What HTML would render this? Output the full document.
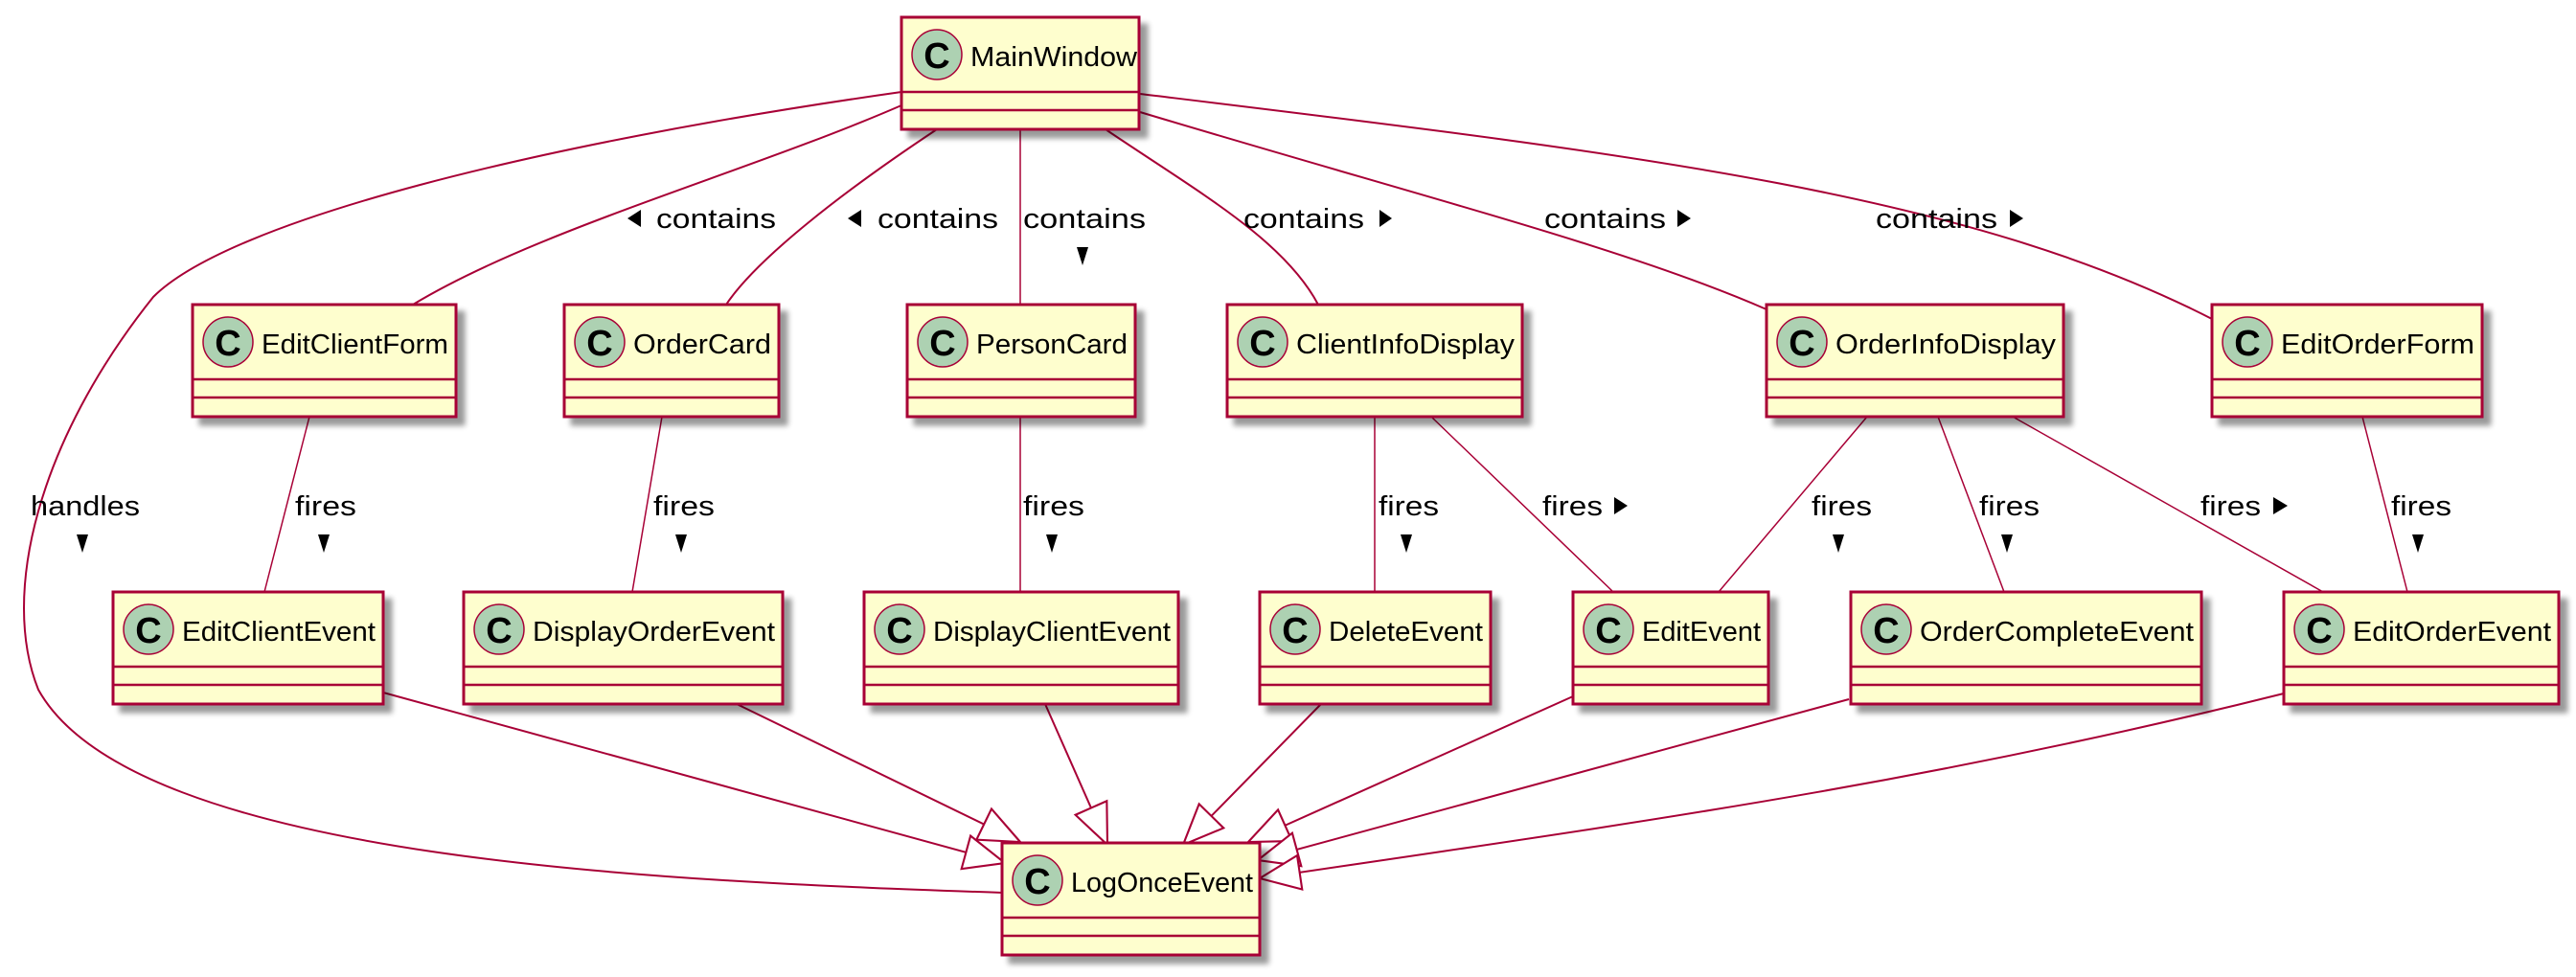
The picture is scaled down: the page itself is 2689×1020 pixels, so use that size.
<!DOCTYPE html>
<html><head><meta charset="utf-8"><style>
html,body{margin:0;padding:0;background:#fff;}
svg{display:block;}
text{font-family:"Liberation Sans",sans-serif;}
</style></head><body>
<svg width="2689" height="1020" viewBox="0 0 2689 1020" xmlns="http://www.w3.org/2000/svg">
<defs>
<filter id="sh" x="-10%" y="-10%" width="130%" height="140%">
<feGaussianBlur in="SourceAlpha" stdDeviation="3"/>
<feOffset dx="8" dy="8" result="o"/>
<feComponentTransfer><feFuncA type="linear" slope="0.4"/></feComponentTransfer>
<feMerge><feMergeNode/><feMergeNode in="SourceGraphic"/></feMerge>
</filter>
<marker id="tri" markerUnits="userSpaceOnUse" markerWidth="50" markerHeight="40" refX="40" refY="17" orient="auto" viewBox="-2 -2 44 38">
<path d="M0,0 L40,17 L0,34 Z" fill="#fff" stroke="#A80036" stroke-width="2"/>
</marker>
</defs>

<g fill="none" stroke="#A80036" stroke-width="2">
<path d="M941,96 C560,150 240,230 160,310 C40,460 0,620 40,720 C140,900 700,920 1047,932"/>
<path d="M941,110 C780,180 560,240 431,318"/>
<path d="M978,135 C880,200 790,270 758,318"/>
<path d="M1065,135 L1065,318" stroke-width="1.5"/>
<path d="M1154,135 C1250,200 1340,250 1376,318"/>
<path d="M1190,117 C1500,210 1700,260 1844,323"/>
<path d="M1190,98 C1700,160 2050,200 2309,333" />
<path d="M323,435 L276,618" stroke-width="1.5"/>
<path d="M691,435 L660,618" stroke-width="1.5"/>
<path d="M1065,435 L1065,618" stroke-width="1.5"/>
<path d="M1435,435 L1435,618" stroke-width="1.5"/>
<path d="M1494,435 L1684,618" stroke-width="1.5"/>
<path d="M1949,435 L1794,618" stroke-width="1.5"/>
<path d="M2023,435 L2092,618" stroke-width="1.5"/>
<path d="M2101,435 L2425,618" stroke-width="1.5"/>
<path d="M2466,435 L2513,618" stroke-width="1.5"/>
<path d="M400,723 L1049,901" marker-end="url(#tri)"/>
<path d="M769,735 L1065,879" marker-end="url(#tri)"/>
<path d="M1091,735 L1156,882" marker-end="url(#tri)"/>
<path d="M1379,735 L1235,882" marker-end="url(#tri)"/>
<path d="M1642,727 L1303,879" marker-end="url(#tri)"/>
<path d="M1930,730 L1313,898" marker-end="url(#tri)"/>
<path d="M2384,724 C2000,820 1700,860 1315,917" marker-end="url(#tri)"/>
</g>

<g font-size="29" fill="#000">
<text x="32" y="538" textLength="114" lengthAdjust="spacingAndGlyphs">handles</text>
<polygon points="80,558 92,558 86,577"/>
<text x="685" y="238" textLength="125" lengthAdjust="spacingAndGlyphs">contains</text>
<polygon points="669,219 669,237 655,228"/>
<text x="916" y="238" textLength="126" lengthAdjust="spacingAndGlyphs">contains</text>
<polygon points="899,219 899,237 885,228"/>
<text x="1068" y="238" textLength="128" lengthAdjust="spacingAndGlyphs">contains</text>
<polygon points="1124,258 1136,258 1130,277"/>
<text x="1298" y="238" textLength="126" lengthAdjust="spacingAndGlyphs">contains</text>
<polygon points="1440,219 1440,237 1453,228"/>
<text x="1612" y="238" textLength="127" lengthAdjust="spacingAndGlyphs">contains</text>
<polygon points="1751,219 1751,237 1765,228"/>
<text x="1958" y="238" textLength="127" lengthAdjust="spacingAndGlyphs">contains</text>
<polygon points="2098,219 2098,237 2112,228"/>
<text x="308" y="538" textLength="64" lengthAdjust="spacingAndGlyphs">fires</text>
<polygon points="332,558 344,558 338,577"/>
<text x="682" y="538" textLength="64" lengthAdjust="spacingAndGlyphs">fires</text>
<polygon points="705,558 717,558 711,577"/>
<text x="1068" y="538" textLength="64" lengthAdjust="spacingAndGlyphs">fires</text>
<polygon points="1092,558 1104,558 1098,577"/>
<text x="1439" y="538" textLength="63" lengthAdjust="spacingAndGlyphs">fires</text>
<polygon points="1462,558 1474,558 1468,577"/>
<text x="1610" y="538" textLength="63" lengthAdjust="spacingAndGlyphs">fires</text>
<polygon points="1685,519 1685,537 1699,528"/>
<text x="1891" y="538" textLength="63" lengthAdjust="spacingAndGlyphs">fires</text>
<polygon points="1913,558 1925,558 1919,577"/>
<text x="2066" y="538" textLength="63" lengthAdjust="spacingAndGlyphs">fires</text>
<polygon points="2089,558 2101,558 2095,577"/>
<text x="2297" y="538" textLength="63" lengthAdjust="spacingAndGlyphs">fires</text>
<polygon points="2373,519 2373,537 2388,528"/>
<text x="2496" y="538" textLength="63" lengthAdjust="spacingAndGlyphs">fires</text>
<polygon points="2518,558 2530,558 2524,577"/>
</g>

<g>
<g filter="url(#sh)"><rect x="941" y="18" width="248" height="117" fill="#FEFECE" stroke="#A80036" stroke-width="3"/></g>
<g filter="url(#sh)"><rect x="201" y="318" width="275" height="117" fill="#FEFECE" stroke="#A80036" stroke-width="3"/></g>
<g filter="url(#sh)"><rect x="589" y="318" width="224" height="117" fill="#FEFECE" stroke="#A80036" stroke-width="3"/></g>
<g filter="url(#sh)"><rect x="947" y="318" width="238" height="117" fill="#FEFECE" stroke="#A80036" stroke-width="3"/></g>
<g filter="url(#sh)"><rect x="1281" y="318" width="308" height="117" fill="#FEFECE" stroke="#A80036" stroke-width="3"/></g>
<g filter="url(#sh)"><rect x="1844" y="318" width="310" height="117" fill="#FEFECE" stroke="#A80036" stroke-width="3"/></g>
<g filter="url(#sh)"><rect x="2309" y="318" width="282" height="117" fill="#FEFECE" stroke="#A80036" stroke-width="3"/></g>
<g filter="url(#sh)"><rect x="118" y="618" width="282" height="117" fill="#FEFECE" stroke="#A80036" stroke-width="3"/></g>
<g filter="url(#sh)"><rect x="484" y="618" width="333" height="117" fill="#FEFECE" stroke="#A80036" stroke-width="3"/></g>
<g filter="url(#sh)"><rect x="902" y="618" width="328" height="117" fill="#FEFECE" stroke="#A80036" stroke-width="3"/></g>
<g filter="url(#sh)"><rect x="1315" y="618" width="241" height="117" fill="#FEFECE" stroke="#A80036" stroke-width="3"/></g>
<g filter="url(#sh)"><rect x="1642" y="618" width="204" height="117" fill="#FEFECE" stroke="#A80036" stroke-width="3"/></g>
<g filter="url(#sh)"><rect x="1932" y="618" width="366" height="117" fill="#FEFECE" stroke="#A80036" stroke-width="3"/></g>
<g filter="url(#sh)"><rect x="2384" y="618" width="287" height="117" fill="#FEFECE" stroke="#A80036" stroke-width="3"/></g>
<g filter="url(#sh)"><rect x="1046" y="880" width="269" height="117" fill="#FEFECE" stroke="#A80036" stroke-width="3"/></g>
</g>

<g stroke="#A80036" stroke-width="2.5">
<line x1="941" y1="96" x2="1189" y2="96"/><line x1="941" y1="115" x2="1189" y2="115"/>
<line x1="201" y1="396" x2="476" y2="396"/><line x1="201" y1="415" x2="476" y2="415"/>
<line x1="589" y1="396" x2="813" y2="396"/><line x1="589" y1="415" x2="813" y2="415"/>
<line x1="947" y1="396" x2="1185" y2="396"/><line x1="947" y1="415" x2="1185" y2="415"/>
<line x1="1281" y1="396" x2="1589" y2="396"/><line x1="1281" y1="415" x2="1589" y2="415"/>
<line x1="1844" y1="396" x2="2154" y2="396"/><line x1="1844" y1="415" x2="2154" y2="415"/>
<line x1="2309" y1="396" x2="2591" y2="396"/><line x1="2309" y1="415" x2="2591" y2="415"/>
<line x1="118" y1="696" x2="400" y2="696"/><line x1="118" y1="715" x2="400" y2="715"/>
<line x1="484" y1="696" x2="817" y2="696"/><line x1="484" y1="715" x2="817" y2="715"/>
<line x1="902" y1="696" x2="1230" y2="696"/><line x1="902" y1="715" x2="1230" y2="715"/>
<line x1="1315" y1="696" x2="1556" y2="696"/><line x1="1315" y1="715" x2="1556" y2="715"/>
<line x1="1642" y1="696" x2="1846" y2="696"/><line x1="1642" y1="715" x2="1846" y2="715"/>
<line x1="1932" y1="696" x2="2298" y2="696"/><line x1="1932" y1="715" x2="2298" y2="715"/>
<line x1="2384" y1="696" x2="2671" y2="696"/><line x1="2384" y1="715" x2="2671" y2="715"/>
<line x1="1046" y1="958" x2="1315" y2="958"/><line x1="1046" y1="977" x2="1315" y2="977"/>
</g>

<g fill="#ADD1B2" stroke="#A80036" stroke-width="1.5">
<circle cx="978" cy="57" r="26"/>
<circle cx="238" cy="357" r="26"/>
<circle cx="626" cy="357" r="26"/>
<circle cx="984" cy="357" r="26"/>
<circle cx="1318" cy="357" r="26"/>
<circle cx="1881" cy="357" r="26"/>
<circle cx="2346" cy="357" r="26"/>
<circle cx="155" cy="657" r="26"/>
<circle cx="521" cy="657" r="26"/>
<circle cx="939" cy="657" r="26"/>
<circle cx="1352" cy="657" r="26"/>
<circle cx="1679" cy="657" r="26"/>
<circle cx="1969" cy="657" r="26"/>
<circle cx="2421" cy="657" r="26"/>
<circle cx="1083" cy="919" r="26"/>
</g>
<g font-size="38" font-weight="bold" text-anchor="middle" fill="#000">
<text x="978" y="71">C</text>
<text x="238" y="371">C</text>
<text x="626" y="371">C</text>
<text x="984" y="371">C</text>
<text x="1318" y="371">C</text>
<text x="1881" y="371">C</text>
<text x="2346" y="371">C</text>
<text x="155" y="671">C</text>
<text x="521" y="671">C</text>
<text x="939" y="671">C</text>
<text x="1352" y="671">C</text>
<text x="1679" y="671">C</text>
<text x="1969" y="671">C</text>
<text x="2421" y="671">C</text>
<text x="1083" y="933">C</text>
</g>
<g font-size="29" fill="#000">
<text x="1013" y="69" textLength="174" lengthAdjust="spacingAndGlyphs">MainWindow</text>
<text x="273" y="369" textLength="195" lengthAdjust="spacingAndGlyphs">EditClientForm</text>
<text x="661" y="369" textLength="144" lengthAdjust="spacingAndGlyphs">OrderCard</text>
<text x="1019" y="369" textLength="158" lengthAdjust="spacingAndGlyphs">PersonCard</text>
<text x="1353" y="369" textLength="228" lengthAdjust="spacingAndGlyphs">ClientInfoDisplay</text>
<text x="1916" y="369" textLength="230" lengthAdjust="spacingAndGlyphs">OrderInfoDisplay</text>
<text x="2381" y="369" textLength="202" lengthAdjust="spacingAndGlyphs">EditOrderForm</text>
<text x="190" y="669" textLength="202" lengthAdjust="spacingAndGlyphs">EditClientEvent</text>
<text x="556" y="669" textLength="253" lengthAdjust="spacingAndGlyphs">DisplayOrderEvent</text>
<text x="974" y="669" textLength="248" lengthAdjust="spacingAndGlyphs">DisplayClientEvent</text>
<text x="1387" y="669" textLength="161" lengthAdjust="spacingAndGlyphs">DeleteEvent</text>
<text x="1714" y="669" textLength="124" lengthAdjust="spacingAndGlyphs">EditEvent</text>
<text x="2004" y="669" textLength="286" lengthAdjust="spacingAndGlyphs">OrderCompleteEvent</text>
<text x="2456" y="669" textLength="207" lengthAdjust="spacingAndGlyphs">EditOrderEvent</text>
<text x="1118" y="931" textLength="190" lengthAdjust="spacingAndGlyphs">LogOnceEvent</text>
</g>
</svg>
</body></html>
